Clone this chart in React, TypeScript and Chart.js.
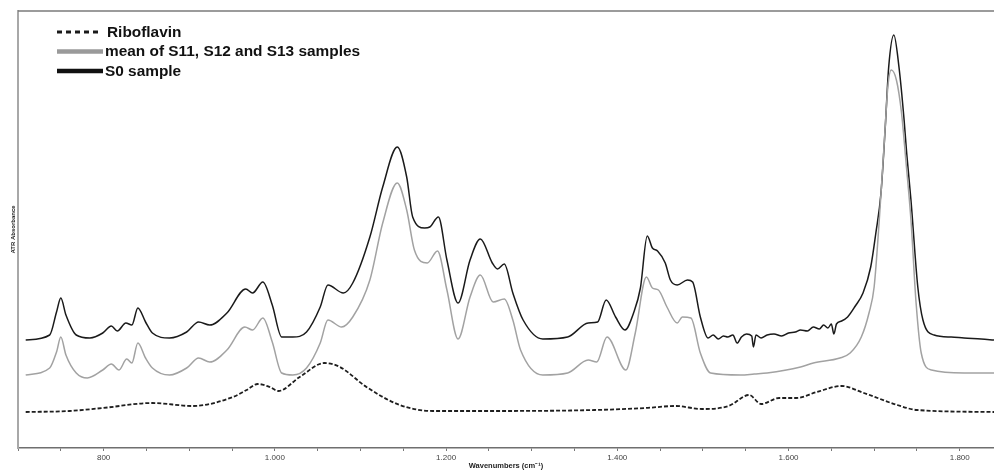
import React, { useEffect, useRef } from 'react';
import { Chart, registerables } from 'chart.js';

Chart.register(...registerables);

const FONT = '"Liberation Sans", Arial, Helvetica, sans-serif';

const seriesLabels = ['Riboflavin', 'mean of S11, S12 and S13 samples', 'S0 sample'];

// [wavenumber (cm-1), ATR absorbance (a.u.)]
const riboflavin: number[][] = [
  [709, 0.36], [760, 0.37], [799, 0.4], [857, 0.45], [904, 0.42], [951, 0.51], [967, 0.58],
  [980, 0.64], [994, 0.61], [1004, 0.57], [1029, 0.71], [1058, 0.85], [1076, 0.81], [1107, 0.61],
  [1146, 0.43], [1184, 0.37], [1262, 0.37], [1374, 0.38], [1433, 0.4], [1468, 0.42], [1499, 0.39],
  [1530, 0.42], [1554, 0.53], [1568, 0.44], [1589, 0.5], [1609, 0.5], [1633, 0.56], [1662, 0.62],
  [1688, 0.55], [1727, 0.43], [1750, 0.38], [1840, 0.36],
];

const meanS11S12S13: number[][] = [
  [709, 0.73], [737, 0.8], [745, 0.96], [750, 1.11], [756, 0.93], [768, 0.75], [781, 0.7],
  [799, 0.78], [809, 0.84], [818, 0.78], [827, 0.89], [833, 0.85], [840, 1.05], [849, 0.9],
  [857, 0.8], [877, 0.73], [897, 0.8], [911, 0.9], [924, 0.86], [944, 0.98], [965, 1.21],
  [974, 1.18], [986, 1.3], [997, 1.06], [1008, 0.75], [1021, 0.73], [1037, 0.8], [1053, 1.05],
  [1062, 1.28], [1078, 1.21], [1091, 1.31], [1111, 1.68], [1126, 2.25], [1143, 2.65], [1154, 2.38],
  [1163, 1.98], [1178, 1.85], [1190, 1.97], [1201, 1.58], [1214, 1.09], [1228, 1.51], [1240, 1.73],
  [1255, 1.46], [1268, 1.49], [1278, 1.28], [1287, 0.98], [1313, 0.73], [1342, 0.75], [1366, 0.88],
  [1376, 0.86], [1388, 1.11], [1410, 0.78], [1421, 1.15], [1434, 1.71], [1441, 1.6], [1448, 1.58],
  [1458, 1.41], [1470, 1.25], [1476, 1.31], [1486, 1.3], [1497, 0.95], [1509, 0.75], [1544, 0.73],
  [1560, 0.74], [1575, 0.75], [1614, 0.81], [1629, 0.85], [1660, 0.9], [1672, 0.95], [1685, 1.11],
  [1694, 1.35], [1700, 1.61], [1706, 2.28], [1712, 3.08], [1716, 3.61], [1720, 3.78], [1726, 3.68],
  [1732, 3.35], [1737, 2.88], [1743, 2.28], [1749, 1.45], [1755, 0.95], [1767, 0.78], [1805, 0.75],
  [1840, 0.75],
];

const s0Sample: number[][] = [
  [709, 1.08], [737, 1.13], [745, 1.36], [750, 1.5], [756, 1.33], [768, 1.13], [784, 1.1],
  [799, 1.15], [809, 1.22], [816, 1.17], [826, 1.25], [833, 1.23], [840, 1.4], [849, 1.26],
  [857, 1.15], [877, 1.1], [897, 1.16], [911, 1.26], [924, 1.23], [944, 1.35], [966, 1.59],
  [974, 1.55], [986, 1.66], [997, 1.43], [1008, 1.11], [1021, 1.11], [1037, 1.16], [1053, 1.41],
  [1062, 1.63], [1080, 1.55], [1091, 1.65], [1111, 2.11], [1126, 2.61], [1143, 3.01], [1154, 2.71],
  [1161, 2.31], [1175, 2.2], [1181, 2.21], [1191, 2.31], [1201, 1.88], [1214, 1.45], [1228, 1.88],
  [1240, 2.09], [1254, 1.85], [1260, 1.79], [1268, 1.84], [1278, 1.55], [1290, 1.28], [1313, 1.09],
  [1342, 1.11], [1366, 1.25], [1377, 1.26], [1387, 1.48], [1398, 1.31], [1409, 1.18], [1419, 1.35],
  [1427, 1.6], [1435, 2.12], [1441, 2.0], [1447, 1.97], [1456, 1.85], [1462, 1.68], [1470, 1.63],
  [1482, 1.68], [1488, 1.66], [1497, 1.31], [1506, 1.1], [1512, 1.13], [1518, 1.09], [1524, 1.12],
  [1529, 1.11], [1535, 1.13], [1540, 1.05], [1545, 1.11], [1551, 1.14], [1557, 1.12], [1559, 1.01],
  [1562, 1.13], [1568, 1.1], [1575, 1.13], [1583, 1.14], [1592, 1.12], [1600, 1.15], [1608, 1.16],
  [1614, 1.18], [1622, 1.17], [1629, 1.21], [1636, 1.19], [1641, 1.23], [1646, 1.2], [1650, 1.24],
  [1653, 1.14], [1656, 1.24], [1662, 1.27], [1669, 1.31], [1678, 1.42], [1687, 1.55], [1696, 1.81],
  [1702, 2.15], [1708, 2.55], [1713, 3.21], [1717, 3.81], [1723, 4.13], [1729, 3.81], [1735, 3.28],
  [1738, 2.95], [1743, 2.48], [1751, 1.61], [1757, 1.28], [1770, 1.13], [1790, 1.11], [1805, 1.1],
  [1825, 1.09], [1840, 1.08],
];

const majorTickValues = [800, 1000, 1200, 1400, 1600, 1800];
const majorTickLabels = ['800', '1.000', '1.200', '1.400', '1.600', '1.800'];
const xAxisTitle = 'Wavenumbers (cm\u207B\u00B9)';
const yAxisTitle = 'ATR Absorbance';

const legendStyles = [
  { color: '#1a1a1a', width: 3, dash: [5, 4], len: 41 },
  { color: '#9a9a9a', width: 4.5, dash: [] as number[], len: 46 },
  { color: '#111111', width: 4.5, dash: [] as number[], len: 46 },
];

const framePlugin = {
  id: 'frameAndLegend',
  afterDraw(chart: any) {
    const { ctx, chartArea } = chart;
    ctx.save();
    // top frame line
    ctx.beginPath();
    ctx.strokeStyle = '#7a7a7a';
    ctx.lineWidth = 1.5;
    ctx.moveTo(chartArea.left, chartArea.top);
    ctx.lineTo(chartArea.right, chartArea.top);
    ctx.stroke();

    // inset legend
    const x0 = chartArea.left + 39;
    const rows = [chartArea.top + 21, chartArea.top + 40.5, chartArea.top + 60];
    chart.data.datasets.forEach((ds: any, i: number) => {
      const st = legendStyles[i];
      const y = rows[i];
      ctx.beginPath();
      ctx.setLineDash(st.dash);
      ctx.lineWidth = st.width;
      ctx.strokeStyle = st.color;
      ctx.moveTo(x0, y);
      ctx.lineTo(x0 + st.len, y);
      ctx.stroke();
      ctx.setLineDash([]);
      ctx.save();
      ctx.translate(x0 + (i === 0 ? 50 : 48), y);
      ctx.scale(1.1, 1);
      ctx.font = `bold 14px ${FONT}`;
      ctx.fillStyle = '#111';
      ctx.textBaseline = 'middle';
      ctx.textAlign = 'left';
      ctx.fillText(ds.label, 0, 1);
      ctx.restore();
    });
    ctx.restore();
  },
};

export default function App() {
  const ref = useRef<HTMLCanvasElement>(null);

  useEffect(() => {
    if (!ref.current) return;
    const toPoints = (arr: number[][]) => arr.map(([x, y]) => ({ x, y }));
    const common = {
      pointRadius: 0,
      pointHoverRadius: 0,
      fill: false,
      cubicInterpolationMode: 'monotone' as const,
    };
    const chart = new Chart(ref.current, {
      type: 'line',
      data: {
        datasets: [
          {
            label: seriesLabels[0],
            data: toPoints(riboflavin),
            borderColor: '#1e1e1e',
            borderWidth: 1.8,
            borderDash: [4, 2],
            ...common,
          },
          {
            label: seriesLabels[1],
            data: toPoints(meanS11S12S13),
            borderColor: '#a2a2a2',
            borderWidth: 1.5,
            ...common,
          },
          {
            label: seriesLabels[2],
            data: toPoints(s0Sample),
            borderColor: '#1a1a1a',
            borderWidth: 1.5,
            ...common,
          },
        ],
      },
      options: {
        animation: false,
        responsive: false,
        devicePixelRatio: 1,
        layout: { padding: { top: 11, right: 0, left: 0, bottom: 0 } },
        plugins: { legend: { display: false }, tooltip: { enabled: false } },
        scales: {
          x: {
            type: 'linear',
            min: 700,
            max: 1840,
            ticks: {
              stepSize: 50,
              includeBounds: false,
              autoSkip: false,
              maxRotation: 0,
              padding: 2,
              color: '#444',
              font: { family: FONT, size: 8 },
              callback: (v: any) => {
                const i = majorTickValues.indexOf(Number(v));
                return i >= 0 ? majorTickLabels[i] : '';
              },
            },
            grid: { drawOnChartArea: false, drawTicks: true, tickLength: 3, color: '#777', lineWidth: 1 },
            border: { display: true, color: '#6f6f6f', width: 1.5 },
            title: {
              display: true,
              text: xAxisTitle,
              color: '#222',
              font: { family: FONT, size: 7.5, weight: 'bold' },
              padding: { top: 0, bottom: 1.5 },
            },
            afterFit: (s: any) => {
              s.height = 24;
            },
          },
          y: {
            type: 'linear',
            min: 0,
            max: 4.37,
            ticks: { display: false },
            grid: { drawOnChartArea: false, drawTicks: false },
            border: { display: true, color: '#a8a8a8', width: 2 },
            title: {
              display: true,
              text: yAxisTitle,
              color: '#222',
              font: { family: FONT, size: 6, weight: 'bold' },
              padding: { top: 10, bottom: 0 },
            },
            afterFit: (s: any) => {
              s.width = 18;
            },
          },
        },
      },
      plugins: [framePlugin],
    } as any);
    return () => chart.destroy();
  }, []);

  return (
    <div style={{ position: 'fixed', left: 0, top: 0, width: 994, height: 472, background: '#fff' }}>
      <canvas ref={ref} width={994} height={472} style={{ display: 'block' }} />
    </div>
  );
}
